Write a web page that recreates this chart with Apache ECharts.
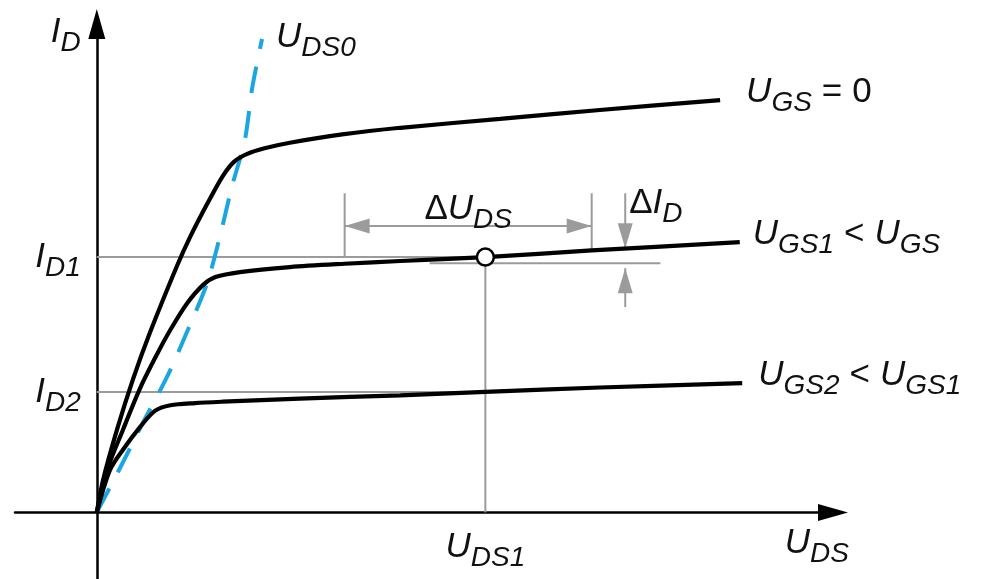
<!DOCTYPE html>
<html>
<head>
<meta charset="utf-8">
<title>JFET output characteristics</title>
<script src="https://cdn.jsdelivr.net/npm/echarts@6/dist/echarts.min.js"></script>
<style>
  html, body { margin: 0; padding: 0; background: #fff; }
  #chart { width: 987px; height: 579px; }
</style>
</head>
<body>
<div id="chart"></div>
<script>
// Output characteristics I_D(U_DS) for three gate voltages (arbitrary units)
const ugs0Curve = [[0,0],[0.76,5.8],[2.47,14.9],[4.43,24.0],[6.5,32.4],[9.8,44.4],[11.4,49.6],[13.5,55.6],[15.4,60.6],[16.8,63.2],[18.4,64.6],[20.5,65.6],[23.6,66.6],[30.0,68.1],[37.1,69.3],[49.3,70.9],[61.5,72.5],[76.2,74.3]];
const ugs1Curve = [[0,0],[1.25,7.6],[3.2,14.9],[5.3,22.4],[7.4,28.6],[9.0,32.9],[11.0,37.6],[13.0,41.0],[14.5,42.4],[17.5,43.3],[23.6,44.2],[30.3,44.8],[37.1,45.3],[47.5,46.0],[60.5,47.2],[78.6,48.7]];
const ugs2Curve = [[0,0],[1.6,7.6],[3.2,11.3],[5.3,15.4],[7.1,18.3],[9.0,19.3],[12.0,19.7],[15.4,19.95],[24.8,20.5],[37.1,21.1],[47.5,21.7],[61.5,22.5],[78.9,23.3]];
// Pinch-off boundary U_DS0
const uds0Curve = [[0,0],[2.84,8.0],[5.65,16.2],[8.58,24.4],[11.4,33.8],[13.5,41.4],[15.1,50.0],[16.5,58.6],[18.1,67.1],[19.0,76.5],[20.2,85.3]];

// Operating point and reference levels
const uds1 = 47.5;
const id1 = 46.0;
const id2 = 21.7;

// Dimension marks: ΔU_DS span and ΔI_D
const deltaUdsSpan = [30.3, 60.5];
const deltaUdsLevel = 51.6;
const dimTop = 57.5;
const deltaUdsRightFoot = 47.2;
const deltaIdAt = 64.6;
const deltaIdTop = 47.6;
const deltaIdBottom = 44.0;
const deltaIdLowTail = 37.0;
const refLowLevel = 44.9;
const refLowSpan = [40.7, 68.9];

// Axis ranges
const xRange = [-10, 90];
const yRange = [-12, 88];

const FONT = "'Liberation Sans', Arial, sans-serif";
const GRAY = '#9b9b9b';
const BLUE = '#1ba5e1';
const INK = '#111';

const rich = {
  m: { fontFamily: FONT, fontStyle: 'italic', fontSize: 35, color: INK, lineHeight: 42 },
  s: { fontFamily: FONT, fontStyle: 'italic', fontSize: 28, color: INK, lineHeight: 28, padding: [22, 0, 0, 0] },
  n: { fontFamily: FONT, fontSize: 35, color: INK, lineHeight: 42 },
  op: { fontFamily: FONT, fontSize: 35, color: INK, lineHeight: 42, padding: [0, 10, 0, 10] }
};

// Gray helper segments: [x1, y1, x2, y2, heads] heads: 0 none, 1 at end, 2 both ends
const segments = [
  [0, id1, uds1, id1, 0],
  [0, id2, uds1, id2, 0],
  [uds1, 0, uds1, id1, 0],
  [deltaUdsSpan[0], dimTop, deltaUdsSpan[0], id1, 0],
  [deltaUdsSpan[1], dimTop, deltaUdsSpan[1], deltaUdsRightFoot, 0],
  [refLowSpan[0], refLowLevel, refLowSpan[1], refLowLevel, 0],
  [deltaUdsSpan[0], deltaUdsLevel, deltaUdsSpan[1], deltaUdsLevel, 2],
  [deltaIdAt, dimTop, deltaIdAt, deltaIdTop, 1],
  [deltaIdAt, deltaIdLowTail, deltaIdAt, deltaIdBottom, 1]
];

function arrowHead(tip, from) {
  const dx = tip[0] - from[0], dy = tip[1] - from[1];
  const len = Math.hypot(dx, dy) || 1;
  const ux = dx / len, uy = dy / len;
  const L = 25, W = 7.5;
  const bx = tip[0] - ux * L, by = tip[1] - uy * L;
  return {
    type: 'polygon',
    shape: { points: [tip, [bx - uy * W, by + ux * W], [bx + uy * W, by - ux * W]] },
    style: { fill: GRAY }
  };
}

function renderSegment(params, api) {
  const a = api.coord([api.value(0), api.value(1)]);
  const b = api.coord([api.value(2), api.value(3)]);
  const heads = api.value(4);
  const children = [{
    type: 'line',
    shape: { x1: a[0], y1: a[1], x2: b[0], y2: b[1] },
    style: { stroke: GRAY, lineWidth: 2 }
  }];
  if (heads >= 1) children.push(arrowHead(b, a));
  if (heads >= 2) children.push(arrowHead(a, b));
  return { type: 'group', children };
}

function curve(name, data, label, gap) {
  return {
    name, type: 'line', data, smooth: 0.3, symbol: 'none', z: 5,
    lineStyle: { color: '#000', width: 4.2 },
    endLabel: { show: true, formatter: label, rich, distance: gap, offset: [0, -8], color: INK }
  };
}

const textMarks = [
  { value: [0, id1], label: { formatter: '{m|I}{s|D1}', position: 'left', distance: 16 } },
  { value: [0, id2], label: { formatter: '{m|I}{s|D2}', position: 'left', distance: 16 } },
  { value: [uds1, 0], label: { formatter: '{m|U}{s|DS1}', position: 'bottom', distance: 14 } },
  { value: [(deltaUdsSpan[0] + deltaUdsSpan[1]) / 2, deltaUdsLevel], label: { formatter: '{n|Δ}{m|U}{s|DS}', position: 'top', distance: -4, offset: [0, 0] } },
  { value: [deltaIdAt, dimTop], label: { formatter: '{n|Δ}{m|I}{s|D}', position: 'right', distance: 4, offset: [0, 10] } }
];

const chart = echarts.init(document.getElementById('chart'), null, { renderer: 'canvas' });
chart.setOption({
  animation: false,
  backgroundColor: '#fff',
  grid: { left: 15, right: 154, top: 24, bottom: 0 },
  xAxis: {
    type: 'value', min: xRange[0], max: xRange[1],
    axisLine: { onZero: true, symbol: ['none', 'triangle'], symbolSize: [17, 30], lineStyle: { color: '#000', width: 2.5 } },
    axisTick: { show: false }, axisLabel: { show: false }, splitLine: { show: false },
    name: '{m|U}{s|DS}', nameLocation: 'end', nameGap: 16,
    nameTextStyle: { align: 'right', verticalAlign: 'top', padding: [10, 0, 0, 0], rich }
  },
  yAxis: {
    type: 'value', min: yRange[0], max: yRange[1],
    axisLine: { onZero: true, symbol: ['none', 'triangle'], symbolSize: [17, 30], lineStyle: { color: '#000', width: 2.5 } },
    axisTick: { show: false }, axisLabel: { show: false }, splitLine: { show: false },
    name: '{m|I}{s|D}', nameLocation: 'end', nameGap: -8,
    nameTextStyle: { align: 'right', verticalAlign: 'middle', padding: [0, 16, 0, 0], rich }
  },
  series: [
    {
      name: 'guides', type: 'custom', renderItem: renderSegment, data: segments, z: 1,
      encode: { x: [0, 2], y: [1, 3] }, silent: true
    },
    {
      name: 'UDS0', type: 'line', data: uds0Curve, smooth: 0.3, symbol: 'none', z: 3,
      lineStyle: { color: BLUE, width: 4, type: [27, 18] },
      endLabel: { show: true, formatter: '{m|U}{s|DS0}', rich, distance: 14, offset: [0, -2], color: INK }
    },
    curve('UGS0', ugs0Curve, '{m|U}{s|GS}{op|=}{n|0}', 26),
    curve('UGS1', ugs1Curve, '{m|U}{s|GS1}{op|<}{m|U}{s|GS}', 13),
    curve('UGS2', ugs2Curve, '{m|U}{s|GS2}{op|<}{m|U}{s|GS1}', 16),
    {
      name: 'operating point', type: 'scatter', data: [[uds1, id1]], z: 8,
      symbol: 'circle', symbolSize: 17,
      itemStyle: { color: '#fff', borderColor: '#000', borderWidth: 2.5, opacity: 1 }
    },
    {
      name: 'annotations', type: 'scatter', symbolSize: 0, z: 9, silent: true,
      itemStyle: { opacity: 1 },
      data: textMarks.map(t => ({ value: t.value, label: Object.assign({ show: true, rich, color: INK, opacity: 1 }, t.label) }))
    }
  ]
});
</script>
</body>
</html>
